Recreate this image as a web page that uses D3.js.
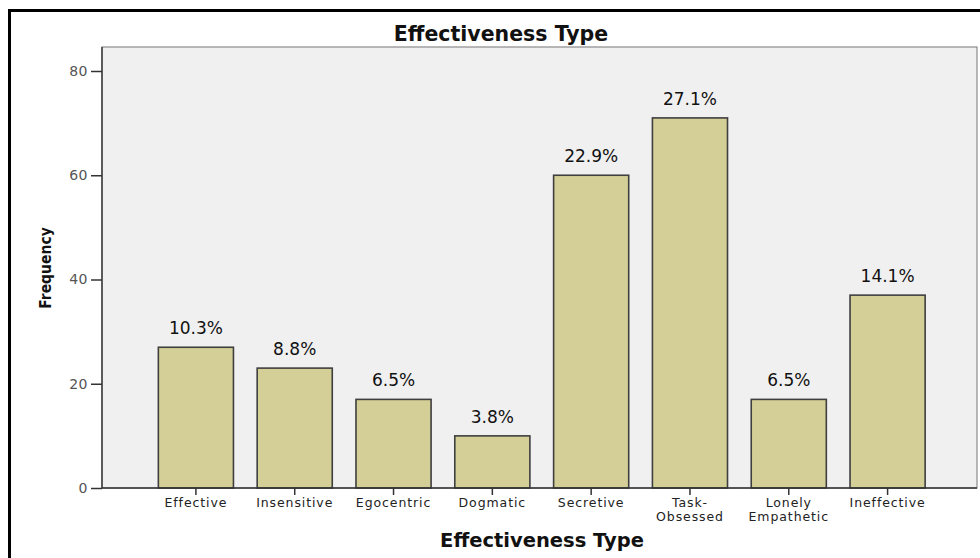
<!DOCTYPE html>
<html><head><meta charset="utf-8">
<script src="https://cdn.jsdelivr.net/npm/d3@7"></script>
<style>body{margin:0;background:#fff}svg{display:block}</style>
</head><body>
<svg id="c" width="980" height="558"></svg>
<script>
const categories = ["Effective","Insensitive","Egocentric","Dogmatic","Secretive","Task-\nObsessed","Lonely\nEmpathetic","Ineffective"];
const counts = [27,23,17,10,60,71,17,37];
const percentLabels = ["10.3%","8.8%","6.5%","3.8%","22.9%","27.1%","6.5%","14.1%"];
const yTicks = [0,20,40,60,80];

const svg = d3.select("#c");
const L = 102, R = 977, T = 47, B = 488;

// outer frame
svg.append("rect").attr("x",0).attr("y",0).attr("width",980).attr("height",558).attr("fill","#fff");
svg.append("line").attr("x1",8).attr("x2",980).attr("y1",10.5).attr("y2",10.5).attr("stroke","#000").attr("stroke-width",3);
svg.append("line").attr("x1",9.5).attr("x2",9.5).attr("y1",9).attr("y2",558).attr("stroke","#000").attr("stroke-width",3);

const y = d3.scaleLinear().domain([0,80]).range([B,71]);
const x = d3.scaleBand().domain(categories).range([146.5,937]).paddingInner(0.24).paddingOuter(0.12);

// plot area
svg.append("rect").attr("x",L).attr("y",T).attr("width",R-L).attr("height",B-T)
  .attr("fill","#f0f0f0").attr("stroke","#8a8a8a").attr("stroke-width",1.2);

// bars
svg.append("g").selectAll("rect").data(counts).join("rect")
  .attr("x",(d,i)=>x(categories[i]))
  .attr("y",d=>y(d))
  .attr("width",x.bandwidth())
  .attr("height",d=>B-y(d))
  .attr("fill","#d3cf96").attr("stroke","#3f3f3f").attr("stroke-width",1.6);

// percent labels
svg.append("g").selectAll("text").data(counts).join("text")
  .attr("x",(d,i)=>x(categories[i])+x.bandwidth()/2)
  .attr("y",d=>y(d)-13)
  .attr("text-anchor","middle")
  .attr("font-family","DejaVu Sans").attr("font-size",17).attr("fill","#111")
  .text((d,i)=>percentLabels[i]);

// y axis
const ya = d3.axisLeft(y).tickValues(yTicks).tickSize(11).tickPadding(3).tickFormat(d3.format("d"));
const gy = svg.append("g").attr("transform",`translate(${L},0)`).call(ya);
gy.select(".domain").attr("stroke","#444").attr("stroke-width",1.6).attr("d",`M-0,${T}V${B}`);
gy.selectAll(".tick line").attr("stroke","#333").attr("stroke-width",1.5);
gy.selectAll(".tick text").attr("font-family","DejaVu Sans").attr("font-size",14).attr("fill","#555").attr("letter-spacing",0.5);

// x axis
const xa = d3.axisBottom(x).tickSize(7).tickFormat("");
const gx = svg.append("g").attr("transform",`translate(0,${B})`).call(xa);
gx.select(".domain").attr("stroke","#333").attr("stroke-width",1.6).attr("d",`M${L},0H${R}`);
gx.selectAll(".tick line").attr("stroke","#333").attr("stroke-width",1.5);
gx.selectAll(".tick").each(function(d){
  const lines = d.split("\n");
  const t = d3.select(this).append("text").attr("fill","#222").attr("font-family","DejaVu Sans")
    .attr("font-size",12.5).attr("text-anchor","middle").attr("letter-spacing",0.9);
  lines.forEach((ln,k)=>t.append("tspan").attr("x",0).attr("y",19+k*13.5).text(ln));
});

// titles
svg.append("text").attr("x",501).attr("y",41).attr("text-anchor","middle")
  .attr("font-family","DejaVu Sans").attr("font-weight","bold").attr("font-size",20.5).attr("fill","#111")
  .text("Effectiveness Type");
svg.append("text").attr("x",542).attr("y",547).attr("text-anchor","middle")
  .attr("font-family","DejaVu Sans").attr("font-weight","bold").attr("font-size",19.5).attr("fill","#111")
  .text("Effectiveness Type");
svg.append("text").attr("transform","translate(51,268) rotate(-90)").attr("text-anchor","middle")
  .attr("font-family","DejaVu Sans Condensed, DejaVu Sans").attr("font-weight","bold").attr("font-size",15.5).attr("fill","#111")
  .text("Frequency");
</script>
</body></html>
